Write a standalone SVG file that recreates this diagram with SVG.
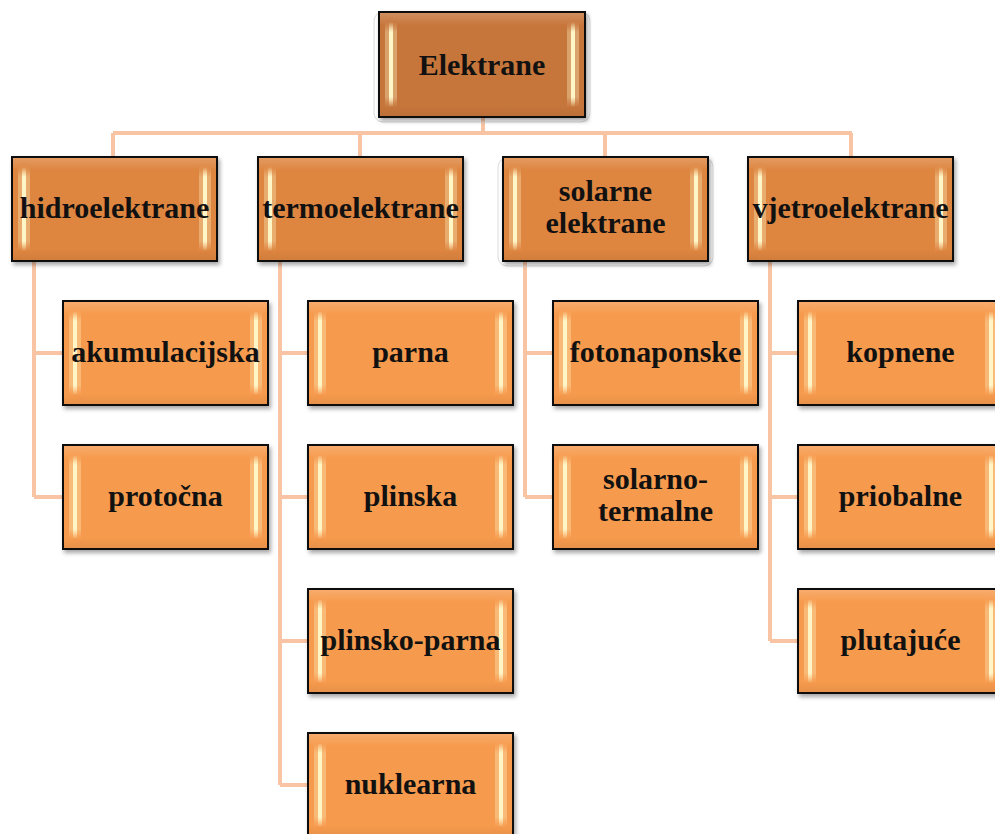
<svg xmlns="http://www.w3.org/2000/svg" width="995" height="834" viewBox="0 0 995 834">
<defs>
<linearGradient id="hl" x1="0" y1="0" x2="0" y2="1">
<stop offset="0" stop-color="#FFF6C8" stop-opacity="0"/>
<stop offset="0.12" stop-color="#FFF6C8" stop-opacity="1"/>
<stop offset="0.88" stop-color="#FFF6C8" stop-opacity="1"/>
<stop offset="1" stop-color="#FFF6C8" stop-opacity="0"/>
</linearGradient>
<linearGradient id="face" x1="0" y1="0" x2="0" y2="1">
<stop offset="0" stop-color="#fff" stop-opacity="0.18"/>
<stop offset="0.12" stop-color="#fff" stop-opacity="0"/>
<stop offset="0.9" stop-color="#000" stop-opacity="0"/>
<stop offset="1" stop-color="#000" stop-opacity="0.06"/>
</linearGradient>
<filter id="sh" x="-10%" y="-10%" width="125%" height="130%">
<feDropShadow dx="2" dy="3" stdDeviation="2" flood-color="#000" flood-opacity="0.35"/>
</filter>
</defs>
<style>
.box{stroke:#111;stroke-width:2;filter:url(#sh)}
.top{fill:#C7763A}
.l1{fill:#DE8540}
.leaf{fill:#F69A4E}
.gl{fill:url(#face)}
.hl{fill:url(#hl)}
.glow{fill:url(#hl);opacity:0.35}
.refl{fill:none;stroke:#DADADA;stroke-width:1}
.t{font-family:"Liberation Serif","Times New Roman",serif;font-weight:bold;font-size:30px;fill:#111;text-anchor:middle}
.c{fill:none;stroke:#F8C4A3;stroke-width:4}
</style>
<rect width="995" height="834" fill="#fff"/>
<g id="connectors">
<path class="c" d="M483 117V133M113 133H852M113 133V157M360 133V157M605 133V157M851 133V157"/>
<path class="c" d="M34 261V497M34 353H63M34 497H63"/>
<path class="c" d="M280 261V785M280 353H308M280 497H308M280 641H308M280 785H308"/>
<path class="c" d="M525 261V497M525 353H553M525 497H553"/>
<path class="c" d="M770 261V641M770 353H798M770 497H798M770 641H798"/>
</g>
<g id="n-elektrane">
<rect class="refl" x="374" y="12" width="216" height="110" rx="9"/>
<rect class="box top" x="379" y="12" width="206" height="105"/>
<rect class="gl" x="380" y="13" width="204" height="103"/>
<rect class="glow" x="385" y="22" width="12" height="85"/><rect class="hl" x="389" y="22" width="4" height="85"/>
<rect class="glow" x="567" y="22" width="12" height="85"/><rect class="hl" x="571" y="22" width="4" height="85"/>
<text class="t" x="482" y="75">Elektrane</text>
</g>
<g id="n-hidro">
<rect class="box l1" x="12" y="157" width="205" height="104"/>
<rect class="gl" x="13" y="158" width="203" height="102"/>
<rect class="glow" x="18" y="167" width="12" height="84"/><rect class="hl" x="22" y="167" width="4" height="84"/>
<rect class="glow" x="199" y="167" width="12" height="84"/><rect class="hl" x="203" y="167" width="4" height="84"/>
<text class="t" x="114.5" y="218">hidroelektrane</text>
</g>
<g id="n-termo">
<rect class="box l1" x="258" y="157" width="205" height="104"/>
<rect class="gl" x="259" y="158" width="203" height="102"/>
<rect class="glow" x="264" y="167" width="12" height="84"/><rect class="hl" x="268" y="167" width="4" height="84"/>
<rect class="glow" x="445" y="167" width="12" height="84"/><rect class="hl" x="449" y="167" width="4" height="84"/>
<text class="t" x="360.5" y="218">termoelektrane</text>
</g>
<g id="n-solar">
<rect class="refl" x="498" y="158" width="215" height="108" rx="9"/>
<rect class="box l1" x="503" y="157" width="205" height="104"/>
<rect class="gl" x="504" y="158" width="203" height="102"/>
<rect class="glow" x="509" y="167" width="12" height="84"/><rect class="hl" x="513" y="167" width="4" height="84"/>
<rect class="glow" x="690" y="167" width="12" height="84"/><rect class="hl" x="694" y="167" width="4" height="84"/>
<text class="t" x="605.5" y="201">solarne</text>
<text class="t" x="605.5" y="233">elektrane</text>
</g>
<g id="n-vjetro">
<rect class="box l1" x="748" y="157" width="205" height="104"/>
<rect class="gl" x="749" y="158" width="203" height="102"/>
<rect class="glow" x="754" y="167" width="12" height="84"/><rect class="hl" x="758" y="167" width="4" height="84"/>
<rect class="glow" x="935" y="167" width="12" height="84"/><rect class="hl" x="939" y="167" width="4" height="84"/>
<text class="t" x="850.5" y="218">vjetroelektrane</text>
</g>
<g id="n-akumulacijska">
<rect class="box leaf" x="63" y="301" width="205" height="104"/>
<rect class="gl" x="64" y="302" width="203" height="102"/>
<rect class="glow" x="69" y="311" width="12" height="84"/><rect class="hl" x="73" y="311" width="4" height="84"/>
<rect class="glow" x="250" y="311" width="12" height="84"/><rect class="hl" x="254" y="311" width="4" height="84"/>
<text class="t" x="165.5" y="362">akumulacijska</text>
</g>
<g id="n-protocna">
<rect class="box leaf" x="63" y="445" width="205" height="104"/>
<rect class="gl" x="64" y="446" width="203" height="102"/>
<rect class="glow" x="69" y="455" width="12" height="84"/><rect class="hl" x="73" y="455" width="4" height="84"/>
<rect class="glow" x="250" y="455" width="12" height="84"/><rect class="hl" x="254" y="455" width="4" height="84"/>
<text class="t" x="165.5" y="506">protočna</text>
</g>
<g id="n-parna">
<rect class="box leaf" x="308" y="301" width="205" height="104"/>
<rect class="gl" x="309" y="302" width="203" height="102"/>
<rect class="glow" x="314" y="311" width="12" height="84"/><rect class="hl" x="318" y="311" width="4" height="84"/>
<rect class="glow" x="495" y="311" width="12" height="84"/><rect class="hl" x="499" y="311" width="4" height="84"/>
<text class="t" x="410.5" y="362">parna</text>
</g>
<g id="n-plinska">
<rect class="box leaf" x="308" y="445" width="205" height="104"/>
<rect class="gl" x="309" y="446" width="203" height="102"/>
<rect class="glow" x="314" y="455" width="12" height="84"/><rect class="hl" x="318" y="455" width="4" height="84"/>
<rect class="glow" x="495" y="455" width="12" height="84"/><rect class="hl" x="499" y="455" width="4" height="84"/>
<text class="t" x="410.5" y="506">plinska</text>
</g>
<g id="n-plinsko-parna">
<rect class="box leaf" x="308" y="589" width="205" height="104"/>
<rect class="gl" x="309" y="590" width="203" height="102"/>
<rect class="glow" x="314" y="599" width="12" height="84"/><rect class="hl" x="318" y="599" width="4" height="84"/>
<rect class="glow" x="495" y="599" width="12" height="84"/><rect class="hl" x="499" y="599" width="4" height="84"/>
<text class="t" x="410.5" y="650">plinsko-parna</text>
</g>
<g id="n-nuklearna">
<rect class="box leaf" x="308" y="733" width="205" height="104"/>
<rect class="gl" x="309" y="734" width="203" height="102"/>
<rect class="glow" x="314" y="743" width="12" height="84"/><rect class="hl" x="318" y="743" width="4" height="84"/>
<rect class="glow" x="495" y="743" width="12" height="84"/><rect class="hl" x="499" y="743" width="4" height="84"/>
<text class="t" x="410.5" y="794">nuklearna</text>
</g>
<g id="n-fotonaponske">
<rect class="box leaf" x="553" y="301" width="205" height="104"/>
<rect class="gl" x="554" y="302" width="203" height="102"/>
<rect class="glow" x="559" y="311" width="12" height="84"/><rect class="hl" x="563" y="311" width="4" height="84"/>
<rect class="glow" x="740" y="311" width="12" height="84"/><rect class="hl" x="744" y="311" width="4" height="84"/>
<text class="t" x="655.5" y="362">fotonaponske</text>
</g>
<g id="n-solarno-termalne">
<rect class="box leaf" x="553" y="445" width="205" height="104"/>
<rect class="gl" x="554" y="446" width="203" height="102"/>
<rect class="glow" x="559" y="455" width="12" height="84"/><rect class="hl" x="563" y="455" width="4" height="84"/>
<rect class="glow" x="740" y="455" width="12" height="84"/><rect class="hl" x="744" y="455" width="4" height="84"/>
<text class="t" x="655.5" y="489">solarno-</text>
<text class="t" x="655.5" y="521">termalne</text>
</g>
<g id="n-kopnene">
<rect class="box leaf" x="798" y="301" width="205" height="104"/>
<rect class="gl" x="799" y="302" width="203" height="102"/>
<rect class="glow" x="804" y="311" width="12" height="84"/><rect class="hl" x="808" y="311" width="4" height="84"/>
<rect class="glow" x="985" y="311" width="12" height="84"/><rect class="hl" x="989" y="311" width="4" height="84"/>
<text class="t" x="900.5" y="362">kopnene</text>
</g>
<g id="n-priobalne">
<rect class="box leaf" x="798" y="445" width="205" height="104"/>
<rect class="gl" x="799" y="446" width="203" height="102"/>
<rect class="glow" x="804" y="455" width="12" height="84"/><rect class="hl" x="808" y="455" width="4" height="84"/>
<rect class="glow" x="985" y="455" width="12" height="84"/><rect class="hl" x="989" y="455" width="4" height="84"/>
<text class="t" x="900.5" y="506">priobalne</text>
</g>
<g id="n-plutajuce">
<rect class="box leaf" x="798" y="589" width="205" height="104"/>
<rect class="gl" x="799" y="590" width="203" height="102"/>
<rect class="glow" x="804" y="599" width="12" height="84"/><rect class="hl" x="808" y="599" width="4" height="84"/>
<rect class="glow" x="985" y="599" width="12" height="84"/><rect class="hl" x="989" y="599" width="4" height="84"/>
<text class="t" x="900.5" y="650">plutajuće</text>
</g>
</svg>
